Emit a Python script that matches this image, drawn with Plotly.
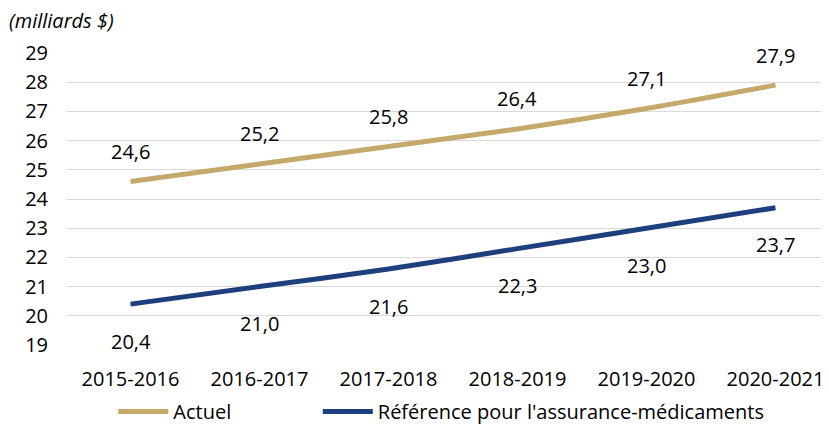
import plotly.graph_objects as go

categories = ["2015-2016", "2016-2017", "2017-2018", "2018-2019", "2019-2020", "2020-2021"]
actuel = [24.6, 25.2, 25.8, 26.4, 27.1, 27.9]
reference = [20.4, 21.0, 21.6, 22.3, 23.0, 23.7]
y_ticks = list(range(19, 30))

gold = "#C4A96B"
navy = "#1E3F7D"
font_family = "Open Sans, Noto Sans, sans-serif"
fs = 20

fig = go.Figure()
fig.add_trace(go.Scatter(x=categories, y=actuel, mode="lines", name="Actuel", legend="legend",
                         line=dict(color=gold, width=5, shape="spline", smoothing=0.6)))
fig.add_trace(go.Scatter(x=categories, y=reference, mode="lines", legend="legend2",
                         name="Référence pour l'assurance-médicaments",
                         line=dict(color=navy, width=5, shape="spline", smoothing=0.6)))

def fmt(v):
    return f"{v:.1f}".replace(".", ",")

for c, v in zip(categories, actuel):
    fig.add_annotation(x=c, y=v, text=fmt(v), showarrow=False, yshift=30,
                       font=dict(size=fs, color="#000000", family=font_family))
for c, v in zip(categories, reference):
    fig.add_annotation(x=c, y=v, text=fmt(v), showarrow=False, yshift=-37,
                       font=dict(size=fs, color="#000000", family=font_family))

fig.add_annotation(xref="paper", yref="paper", x=-0.077, y=1.110, xanchor="left", yanchor="middle",
                   text="<i>(milliards $)</i>", showarrow=False,
                   font=dict(size=fs, color="#000000", family=font_family))

leg_common = dict(orientation="h", xanchor="left", y=-0.228, yanchor="middle",
                  font=dict(size=fs, family=font_family, color="#000000"), itemwidth=50,
                  bgcolor="rgba(0,0,0,0)")

fig.update_layout(
    width=821, height=417,
    margin=dict(l=58, r=0, t=45, b=80, autoexpand=False),
    paper_bgcolor="white", plot_bgcolor="white",
    font=dict(family=font_family, size=fs, color="#000000"),
    showlegend=True,
    legend=dict(x=0.062, **leg_common),
    legend2=dict(x=0.330, **leg_common),
    xaxis=dict(range=[-0.5, 5.415], showgrid=False, showline=False, ticks="",
               tickfont=dict(size=fs), ticklabelstandoff=20),
    yaxis=dict(range=[19, 29], tickvals=y_ticks, showgrid=True, gridcolor="#D9D9D9",
               gridwidth=1, zeroline=False, showline=False, ticks="",
               tickfont=dict(size=fs), ticklabelstandoff=17),
)

fig.write_html("out.html")
